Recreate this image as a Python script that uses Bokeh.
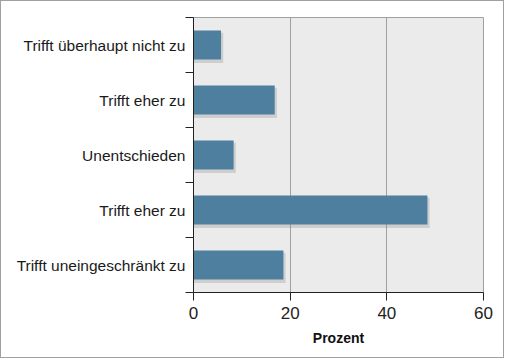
from bokeh.plotting import figure
from bokeh.models import Range1d, FixedTicker, ColumnDataSource
from bokeh.embed import file_html
from bokeh.resources import INLINE

categories = ["Trifft überhaupt nicht zu", "Trifft eher zu", "Unentschieden",
              "Trifft eher zu", "Trifft uneingeschränkt zu"]
values = [5.7, 16.8, 8.3, 48.4, 18.6]
x_ticks = [0, 20, 40, 60]

n = len(categories)
pos = [n - 1 - i for i in range(n)]  # top category highest
src = ColumnDataSource(dict(y=pos, v=values,
                            ys=[p - 0.05 for p in pos],
                            vs=[v + 0.45 for v in values]))

p = figure(width=504, height=358, output_backend="svg", toolbar_location=None,
           x_range=Range1d(0, 60), y_range=Range1d(-0.5, n - 0.5),
           min_border_left=192, min_border_right=22, min_border_top=16,
           min_border_bottom=67)
p.background_fill_color = "#ebebeb"
p.border_fill_color = "white"
p.outline_line_color = "#a0a0a0"

# soft shadow
p.hbar(y="ys", right="vs", left=0, height=0.55, source=src,
       fill_color="#8a8a8a", fill_alpha=0.3, line_color=None)
p.hbar(y="y", right="v", left=0, height=0.53, source=src,
       fill_color="#4e7f9e", line_color=None)

p.xgrid.ticker = FixedTicker(ticks=x_ticks)
p.xgrid.grid_line_color = "#a0a0a0"
p.xgrid.grid_line_width = 1
p.ygrid.grid_line_color = None

p.xaxis.ticker = FixedTicker(ticks=x_ticks)
p.xaxis.axis_label = "Prozent"
p.xaxis.axis_label_text_font = "Liberation Sans"
p.xaxis.axis_label_text_font_style = "bold"
p.xaxis.axis_label_text_font_size = "14px"
p.xaxis.axis_label_text_color = "#111111"
p.xaxis.axis_label_standoff = 8
p.xaxis.major_label_text_font = "Liberation Sans"
p.xaxis.major_label_text_font_size = "17px"
p.xaxis.major_label_text_color = "#222222"
p.xaxis.major_label_standoff = 6
p.xaxis.major_tick_out = 8
p.xaxis.major_tick_in = 0
p.xaxis.minor_tick_line_color = None
p.xaxis.axis_line_color = "#222222"
p.xaxis.major_tick_line_color = "#222222"

p.yaxis.ticker = FixedTicker(ticks=pos, minor_ticks=[i - 0.5 for i in range(n + 1)])
p.yaxis.major_label_overrides = {pos[i]: c for i, c in enumerate(categories)}
p.yaxis.major_label_text_font = "Liberation Sans"
p.yaxis.major_label_text_font_size = "15.5px"
p.yaxis.major_label_text_color = "#1a1a1a"
p.yaxis.major_tick_out = 0
p.yaxis.major_tick_in = 0
p.yaxis.major_label_standoff = 0
p.yaxis.minor_tick_out = 8
p.yaxis.minor_tick_in = 0
p.yaxis.minor_tick_line_color = "#222222"
p.yaxis.axis_line_color = "#222222"

p.styles = {"border": "1px solid #a0a0a0"}

open("out.html", "w").write(file_html(p, INLINE))
